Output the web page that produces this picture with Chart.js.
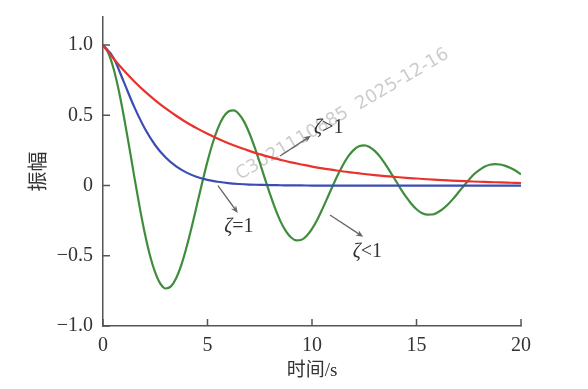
<!DOCTYPE html>
<html lang="zh">
  <head>
    <meta charset="UTF-8" />
    <title>振幅响应</title>
    <script src="https://cdn.jsdelivr.net/npm/chart.js"></script>
    <style>
      html, body { margin: 0; padding: 0; background: #fff; }
      #wrap { width: 588px; height: 389px; }
    </style>
  </head>
  <body>
    <div id="wrap"><canvas id="dampChart" width="588" height="389"></canvas></div>
    <script>
      // time axis for the underdamped curve (s)
      const timeFine = [
        0, 0.25, 0.5, 0.75, 1, 1.25, 1.5, 1.75, 2, 2.25, 2.5, 2.75, 3, 3.25, 3.5, 3.75,
        4, 4.25, 4.5, 4.75, 5, 5.25, 5.5, 5.75, 6, 6.25, 6.5, 6.75, 7, 7.25, 7.5, 7.75,
        8, 8.25, 8.5, 8.75, 9, 9.25, 9.5, 9.75, 10, 10.25, 10.5, 10.75, 11, 11.25, 11.5, 11.75,
        12, 12.25, 12.5, 12.75, 13, 13.25, 13.5, 13.75, 14, 14.25, 14.5, 14.75, 15, 15.25, 15.5, 15.75,
        16, 16.25, 16.5, 16.75, 17, 17.25, 17.5, 17.75, 18, 18.25, 18.5, 18.75, 19, 19.25, 19.5, 19.75, 20
      ];
      // zeta < 1
      const underdamped = [
        1.0, 0.945, 0.835, 0.68, 0.49, 0.28, 0.06, -0.15, -0.34, -0.5, -0.62, -0.7, -0.733, -0.718, -0.66, -0.565,
        -0.438, -0.292, -0.134, 0.023, 0.172, 0.303, 0.409, 0.485, 0.527, 0.535, 0.51, 0.455, 0.374, 0.275, 0.164, 0.048,
        -0.065, -0.168, -0.257, -0.325, -0.37, -0.39, -0.386, -0.357, -0.309, -0.244, -0.166, -0.083, 0.0, 0.08, 0.152, 0.211,
        0.254, 0.279, 0.286, 0.275, 0.247, 0.206, 0.154, 0.096, 0.036, -0.025, -0.08, -0.13, -0.169, -0.196, -0.207, -0.206,
        -0.192, -0.168, -0.135, -0.095, -0.05, -0.005, 0.04, 0.08, 0.11, 0.134, 0.148, 0.153, 0.15, 0.14, 0.125, 0.105, 0.08
      ];

      // time axis for the two smooth curves (s)
      const timeCoarse = [
        0, 0.5, 1, 1.5, 2, 2.5, 3, 3.5, 4, 4.5, 5, 5.5, 6, 6.5, 7, 7.5, 8, 8.5, 9, 9.5,
        10, 10.5, 11, 11.5, 12, 12.5, 13, 13.5, 14, 14.5, 15, 15.5, 16, 16.5, 17, 17.5, 18, 18.5, 19, 19.5, 20
      ];
      // zeta > 1
      const overdamped = [
        1.0, 0.905, 0.819, 0.741, 0.67, 0.607, 0.549, 0.497, 0.449, 0.407, 0.368, 0.333, 0.301, 0.273, 0.247, 0.223, 0.202, 0.183, 0.165, 0.15,
        0.135, 0.122, 0.111, 0.1, 0.091, 0.082, 0.074, 0.067, 0.061, 0.055, 0.05, 0.045, 0.041, 0.037, 0.033, 0.03, 0.027, 0.025, 0.022, 0.02, 0.018
      ];
      // zeta = 1
      const critical = [
        1.0, 0.91, 0.736, 0.558, 0.406, 0.287, 0.199, 0.136, 0.092, 0.061, 0.04, 0.027, 0.017, 0.011, 0.007, 0.005, 0.003, 0.002, 0.001, 0.001,
        0, 0, 0, 0, 0, 0, 0, 0, 0, 0, 0, 0, 0, 0, 0, 0, 0, 0, 0, 0, 0
      ];

      const xTicks = [0, 5, 10, 15, 20];
      const xTickLabels = ["0", "5", "10", "15", "20"];
      const yTicks = [-1, -0.5, 0, 0.5, 1];
      const yTickLabels = ["\u22121.0", "\u22120.5", "0", "0.5", "1.0"];

      // callouts: arrow from -> to (data units), label centre
      const callouts = [
        { from: [8.47, 0.21], to: [9.95, 0.355], label: [10.8, 0.41], rel: ">1" },
        { from: [5.5, 0.0], to: [6.45, -0.195], label: [6.5, -0.295], rel: "=1" },
        { from: [10.86, -0.21], to: [12.45, -0.365], label: [12.65, -0.47], rel: "<1" }
      ];

      const serif = "'Liberation Serif', 'Times New Roman', serif";
      const axisColor = "#555";

      function toPoints(xs, ys) {
        return xs.map((x, i) => ({ x: x, y: ys[i] }));
      }

      const extras = {
        id: "extras",
        beforeDatasetsDraw(chart) {
          // faint watermark
          const ctx = chart.ctx;
          ctx.save();
          ctx.translate(240, 180);
          ctx.rotate(-0.53);
          ctx.font = "18px 'DejaVu Sans', sans-serif";
          ctx.fillStyle = "rgba(170,170,170,0.6)";
          ctx.textBaseline = "alphabetic";
          ctx.fillText("C3021110885  2025-12-16", 0, 0);
          ctx.restore();
        },
        afterDraw(chart) {
          const ctx = chart.ctx;
          const xs = chart.scales.x;
          const ys = chart.scales.y;
          const area = chart.chartArea;
          ctx.save();
          // inward tick marks
          ctx.strokeStyle = axisColor;
          ctx.lineWidth = 1.5;
          ctx.beginPath();
          yTicks.forEach((v) => {
            const py = ys.getPixelForValue(v);
            ctx.moveTo(area.left, py);
            ctx.lineTo(area.left + 7, py);
          });
          xTicks.forEach((v) => {
            const px = xs.getPixelForValue(v);
            ctx.moveTo(px, area.bottom);
            ctx.lineTo(px, area.bottom - 7);
          });
          ctx.stroke();

          // arrows and labels
          callouts.forEach((c) => {
            const x1 = xs.getPixelForValue(c.from[0]);
            const y1 = ys.getPixelForValue(c.from[1]);
            const x2 = xs.getPixelForValue(c.to[0]);
            const y2 = ys.getPixelForValue(c.to[1]);
            const ang = Math.atan2(y2 - y1, x2 - x1);
            ctx.strokeStyle = "#6b6464";
            ctx.fillStyle = "#6b6464";
            ctx.lineWidth = 1.3;
            ctx.beginPath();
            ctx.moveTo(x1, y1);
            ctx.lineTo(x2 - 3 * Math.cos(ang), y2 - 3 * Math.sin(ang));
            ctx.stroke();
            ctx.beginPath();
            ctx.moveTo(x2, y2);
            ctx.lineTo(x2 - 8 * Math.cos(ang - 0.4), y2 - 8 * Math.sin(ang - 0.4));
            ctx.lineTo(x2 - 5 * Math.cos(ang), y2 - 5 * Math.sin(ang));
            ctx.lineTo(x2 - 8 * Math.cos(ang + 0.4), y2 - 8 * Math.sin(ang + 0.4));
            ctx.closePath();
            ctx.fill();

            const lx = xs.getPixelForValue(c.label[0]);
            const ly = ys.getPixelForValue(c.label[1]);
            ctx.fillStyle = "#333";
            ctx.textBaseline = "middle";
            ctx.textAlign = "left";
            ctx.font = "italic 20px " + serif;
            const w1 = ctx.measureText("\u03b6").width;
            ctx.font = "20px " + serif;
            const w2 = ctx.measureText(c.rel).width;
            const start = lx - (w1 + w2) / 2;
            ctx.font = "italic 20px " + serif;
            ctx.fillText("\u03b6", start, ly);
            ctx.font = "20px " + serif;
            ctx.fillText(c.rel, start + w1, ly);
          });
          ctx.restore();
        }
      };

      const ctx = document.getElementById("dampChart").getContext("2d");
      const lineStyle = {
        pointRadius: 0,
        borderWidth: 2.2,
        cubicInterpolationMode: "monotone",
        fill: false
      };

      new Chart(ctx, {
        type: "line",
        data: {
          datasets: [
            Object.assign({ label: "\u03b6>1", data: toPoints(timeCoarse, overdamped), borderColor: "#e8322b" }, lineStyle),
            Object.assign({ label: "\u03b6=1", data: toPoints(timeCoarse, critical), borderColor: "#3b4db3" }, lineStyle),
            Object.assign({ label: "\u03b6<1", data: toPoints(timeFine, underdamped), borderColor: "#3f8d3c" }, lineStyle)
          ]
        },
        options: {
          responsive: false,
          animation: false,
          layout: { padding: { left: 0, top: 17, right: 67, bottom: 0 } },
          plugins: {
            legend: { display: false },
            tooltip: { enabled: false }
          },
          scales: {
            x: {
              type: "linear",
              min: 0,
              max: 20,
              grid: { display: false, drawTicks: false },
              border: { display: true, color: axisColor, width: 1.5 },
              afterBuildTicks: (scale) => {
                scale.ticks = xTicks.map((v) => ({ value: v }));
              },
              afterFit: (scale) => {
                scale.height = 63;
                scale.paddingLeft = 0;
                scale.paddingRight = 0;
              },
              ticks: {
                padding: 8,
                maxRotation: 0,
                color: "#333",
                font: { family: serif, size: 20 },
                callback: (v) => xTickLabels[xTicks.indexOf(v)]
              },
              title: {
                display: true,
                text: "时间/s",
                color: "#333",
                font: { family: serif + ", 'Noto Sans CJK SC'", size: 19 },
                padding: { top: 0, bottom: 7 }
              }
            },
            y: {
              min: -1,
              max: 1.2,
              grid: { display: false, drawTicks: false },
              border: { display: true, color: axisColor, width: 1.5 },
              afterBuildTicks: (scale) => {
                scale.ticks = yTicks.map((v) => ({ value: v }));
              },
              afterFit: (scale) => {
                scale.width = 103;
                scale.paddingTop = 0;
                scale.paddingBottom = 0;
              },
              ticks: {
                padding: 10,
                color: "#333",
                font: { family: serif, size: 20 },
                callback: (v) => yTickLabels[yTicks.indexOf(v)]
              },
              title: {
                display: true,
                text: "振幅",
                color: "#333",
                font: { family: "'Noto Sans CJK SC', sans-serif", size: 20 },
                padding: { top: 25, bottom: 0 }
              }
            }
          }
        },
        plugins: [extras]
      });
    </script>
  </body>
</html>
